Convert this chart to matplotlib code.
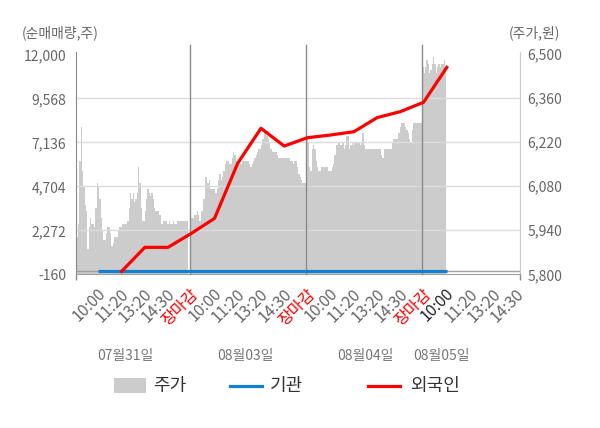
import numpy as np
import matplotlib
matplotlib.use('Agg')
import matplotlib.pyplot as plt
from matplotlib.patches import Rectangle
from matplotlib.lines import Line2D

plt.rcParams['font.family'] = ['Noto Sans CJK KR', 'DejaVu Sans']

# ---------------- data ----------------
tick_labels = ['10:00', '11:20', '13:20', '14:30', '장마감',
               '10:00', '11:20', '13:20', '14:30', '장마감',
               '10:00', '11:20', '13:20', '14:30', '장마감',
               '10:00', '11:20', '13:20', '14:30']
date_labels = ['07월31일', '08월03일', '08월04일', '08월05일']
left_ticks = [-160, 2272, 4704, 7136, 9568, 12000]
right_ticks = [5800, 5940, 6080, 6220, 6360, 6500]

# cumulative net buying (shares)
inst_net = [0, 0, 0, 0, 0, 0, 0, 0, 0, 0, 0, 0, 0, 0, 0, 0]
foreign_net = [np.nan, 0, 1330, 1330, 2100, 2930, 5980, 7910, 6930,
               7390, 7540, 7720, 8500, 8830, 9350, 11280]

# intraday price (won), one list per trading day
price_day1 = [5890, 5860, 5920, 5960, 6160, 6270, 6130, 6080, 6020, 6000,
              5880, 5950, 5980, 5960, 5960, 5950, 6010, 6090, 6080, 6040,
              5980, 5940, 5910, 5910, 5930, 5950, 5950, 5930, 5890, 5900,
              5920, 5920, 5920, 5940, 5950, 5950, 5960, 5960, 5960, 5960,
              5970, 6010, 6060, 6040, 6060, 6030, 6040, 6060, 6140, 6090,
              6010, 5970, 5970, 6000, 6040, 6070, 6060, 6050, 6060, 6040,
              6010, 6000, 6000, 6000, 5990, 5960, 5960, 5970, 5970, 5970,
              5960, 5970, 5960, 5960, 5970, 5960, 5960, 5970, 5970, 5970,
              5970, 5970, 5970, 5970, 5970, 5970]
price_day2 = [5970, 5980, 5980, 5990, 5990, 6000, 5990, 5970, 6000, 6000,
              6040, 6110, 6110, 6090, 6100, 6070, 6070, 6070, 6070, 6060,
              6070, 6100, 6120, 6100, 6110, 6130, 6150, 6160, 6160, 6150,
              6150, 6170, 6190, 6180, 6160, 6160, 6160, 6150, 6150, 6160,
              6160, 6160, 6160, 6160, 6150, 6140, 6150, 6160, 6170, 6180,
              6190, 6200, 6200, 6210, 6230, 6250, 6250, 6240, 6230, 6220,
              6200, 6190, 6190, 6190, 6190, 6180, 6170, 6170, 6170, 6170,
              6170, 6170, 6170, 6170, 6170, 6160, 6160, 6150, 6160, 6160,
              6140, 6120, 6110, 6100, 6090, 6090, 6090]
price_day3 = [6230, 6220, 6140, 6130, 6200, 6210, 6200, 6160, 6140, 6130,
              6130, 6140, 6140, 6140, 6140, 6140, 6130, 6130, 6130, 6140,
              6150, 6180, 6210, 6210, 6220, 6210, 6210, 6220, 6200, 6210,
              6240, 6240, 6200, 6210, 6220, 6210, 6220, 6220, 6220, 6220,
              6210, 6220, 6250, 6210, 6200, 6200, 6200, 6200, 6200, 6200,
              6200, 6200, 6200, 6200, 6200, 6200, 6180, 6170, 6200, 6200,
              6200, 6200, 6200, 6200, 6220, 6230, 6230, 6230, 6230, 6250,
              6270, 6280, 6280, 6280, 6270, 6260, 6250, 6230, 6220, 6260,
              6280, 6280, 6280, 6280, 6280, 6280, 6280]
price_day4 = [6460, 6440, 6460, 6480, 6470, 6440, 6450, 6470, 6490, 6470,
              6440, 6460, 6470, 6460, 6470, 6470, 6480, 6450]

# ---------------- figure ----------------
W, H = 600, 428
fig = plt.figure(figsize=(W / 100, H / 100), dpi=100)
ax = fig.add_axes([75.7 / W, 1 - 274.3 / H, (520 - 75.7) / W, (274.3 - 52) / H])
ax2 = ax.twinx()
ax.set_zorder(ax2.get_zorder() + 1)
ax.patch.set_visible(False)
ax2.set_facecolor('#f4f4f4')

xlim = (-0.925, 18.2)
ax.set_xlim(*xlim)
ax.set_ylim(-160, 12127)
ax2.set_ylim(5800, 6507)

# price area
day_len = 5.0
n_per_day = 87
step = day_len / n_per_day
for d, prices in enumerate([price_day1, price_day2, price_day3, price_day4]):
    start = -1 + d * day_len
    xs = start + (np.arange(len(prices)) + 0.5) * step
    ax2.fill_between(xs, 5800, prices, step='mid', color='#cccccc', lw=0)

# grid + zero line
for t in left_ticks[1:-1]:
    ax.axhline(t, color='#dcdcdc', lw=1, zorder=1)
ax.axhline(0, color='#a0a0a0', lw=1, zorder=2)

# day separators
for s in [4, 9, 14]:
    ax.plot([s, s], [0, 1.032], transform=ax.get_xaxis_transform(),
            color='#8a8a8a', lw=1, clip_on=False, zorder=3)

# lines
xi = np.arange(len(inst_net)) + 0.05
ax.plot(xi, inst_net, color='#1280d0', lw=2.3, zorder=4, solid_capstyle='butt')
ax.plot(xi, foreign_net, color='#ff0000', lw=2.3, zorder=5)

# spines
for sp in ['top']:
    ax.spines[sp].set_visible(False)
    ax2.spines[sp].set_visible(False)
ax.spines['left'].set_color('#8a8a8a')
ax.spines['bottom'].set_color('#a0a0a0')
ax.spines['right'].set_color('#cccccc')
ax2.spines['right'].set_color('#cccccc')
ax2.spines['left'].set_visible(False)
ax2.spines['bottom'].set_visible(False)

# y ticks
ax.set_yticks(left_ticks)
ax.set_yticklabels([f'{v:,}' for v in left_ticks])
ax.tick_params(axis='y', length=0, pad=7, labelsize=10, labelcolor='#666666')
ax2.set_yticks(right_ticks)
ax2.set_yticklabels([f'{v:,}' for v in right_ticks])
ax2.tick_params(axis='y', length=0, pad=5.5, labelsize=10, labelcolor='#666666')

# x ticks
ax.set_xticks(np.arange(len(tick_labels)))
ax.set_xticklabels(tick_labels, rotation=45, ha='right', rotation_mode='anchor')
ax.tick_params(axis='x', which='major', length=0, pad=8, labelsize=11.5, labelcolor='#666666')
for lbl in ax.get_xticklabels():
    if lbl.get_text() == '장마감':
        lbl.set_color('#ff0000')
ax.get_xticklabels()[15].set_color('#222222')
ax.set_xticks([xlim[0], 4, 9, 14, xlim[1]], minor=True)
ax.tick_params(axis='x', which='minor', length=4, color='#8a8a8a', width=1)

# axis titles
fig.text(21.7 / W, 1 - 33 / H, '(순매매량,주)', ha='left', va='center', fontsize=10, color='#666666')
fig.text(509 / W, 1 - 33 / H, '(주가,원)', ha='left', va='center', fontsize=10, color='#666666')

# date labels
for xp, t in zip([125, 245, 365, 441], date_labels):
    fig.text(xp / W, 1 - 356 / H, t, ha='center', va='center', fontsize=10, color='#777777')

# legend
ly = 1 - 386 / H
fig.add_artist(Rectangle((114 / W, 1 - 393 / H), 32 / W, 15 / H, transform=fig.transFigure,
                         color='#cccccc', lw=0))
fig.text(153 / W, ly, '주가', ha='left', va='center', fontsize=13, color='#333333')
fig.add_artist(Line2D([230 / W, 262 / W], [ly, ly], transform=fig.transFigure, color='#1280d0', lw=2.3))
fig.text(270 / W, ly, '기관', ha='left', va='center', fontsize=13, color='#333333')
fig.add_artist(Line2D([368 / W, 400 / W], [ly, ly], transform=fig.transFigure, color='#ff0000', lw=2.3))
fig.text(410 / W, ly, '외국인', ha='left', va='center', fontsize=13, color='#333333')

fig.savefig('out.png', dpi=100, facecolor='white')
